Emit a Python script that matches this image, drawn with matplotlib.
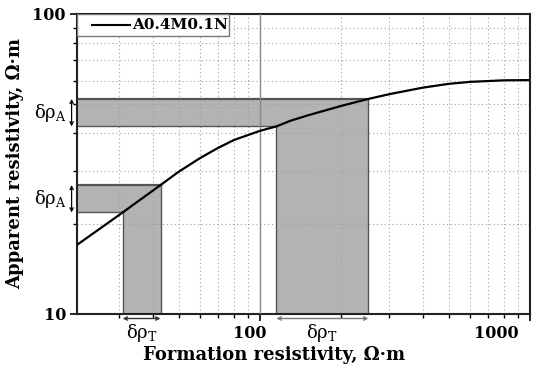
import matplotlib
matplotlib.use("Agg")
import matplotlib.pyplot as plt
from matplotlib.patches import Rectangle
from matplotlib.transforms import offset_copy
from matplotlib.ticker import LogLocator, NullFormatter, FixedLocator, FixedFormatter

# curve (formation vs apparent resistivity)
rho_t = [21, 25, 31, 35, 42.8, 50, 60, 70, 80, 100, 115, 130, 150, 200, 252, 300, 400, 500, 600, 800, 1000]
rho_a = [17.0, 19.0, 21.8, 23.6, 26.9, 29.8, 33.1, 35.8, 38.0, 40.8, 42.2, 44.1, 45.9, 49.4, 52.1, 54.0, 56.8, 58.5, 59.4, 60.1, 60.2]

# shaded bands: formation interval and matching apparent interval
band_t = [(31, 42.8), (115, 252)]
band_a = [(21.8, 26.9), (42.2, 52.1)]

legend_label = "A0.4M0.1N"
x_ticks = [100, 1000]
y_ticks = [10, 100]

plt.rcParams["font.family"] = ["DejaVu Serif"]
fig = plt.figure(figsize=(5.49, 3.73), dpi=100)
ax = fig.add_axes([0.1403, 0.1582, 0.8251, 0.8043])
ax.set_xscale("log")
ax.set_yscale("log")
ax.set_xlim(21, 1000)
ax.set_ylim(10, 100)

fill = "#b3b3b3"
edge = "#555555"
for (t0, t1), (a0, a1) in zip(band_t, band_a):
    ax.add_patch(Rectangle((t0, 10), t1 - t0, a1 - 10, facecolor=fill, edgecolor="none", zorder=1))
    ax.add_patch(Rectangle((21, a0), t1 - 21, a1 - a0, facecolor=fill, edgecolor="none", zorder=1))
    ax.plot([21, t1], [a1, a1], color=edge, lw=1.6, zorder=2)
    ax.plot([21, t0], [a0, a0], color=edge, lw=1.0, zorder=2)
    ax.plot([t0, t0], [10, a0], color=edge, lw=1.0, zorder=2)
    ax.plot([t1, t1], [10, a1], color=edge, lw=1.0, zorder=2)

ax.plot(rho_t, rho_a, color="black", lw=1.6, zorder=4)

ax.grid(which="minor", color="#a0a0a0", linestyle=(0, (1, 2.5)), lw=0.8, zorder=3)
ax.axvline(100, color="#888888", lw=1.0, zorder=3)

ax.xaxis.set_major_locator(FixedLocator(x_ticks))
ax.xaxis.set_major_formatter(FixedFormatter([str(v) for v in x_ticks]))
ax.xaxis.set_minor_locator(LogLocator(base=10, subs=range(2, 10)))
ax.xaxis.set_minor_formatter(NullFormatter())
ax.yaxis.set_major_locator(FixedLocator(y_ticks))
ax.yaxis.set_major_formatter(FixedFormatter([str(v) for v in y_ticks]))
ax.yaxis.set_minor_locator(LogLocator(base=10, subs=range(2, 10)))
ax.yaxis.set_minor_formatter(NullFormatter())
ax.tick_params(which="major", length=5, width=1.2, labelsize=11.5, pad=3)
ax.tick_params(which="minor", length=3, width=1.0)
for lab in ax.get_xticklabels() + ax.get_yticklabels():
    lab.set_fontweight("bold")
# x labels sit left of their ticks in the reference
for lab, dx in zip(ax.get_xticklabels(), [-10, -34]):
    lab.set_transform(offset_copy(lab.get_transform(), fig=fig, x=dx, y=0, units="dots"))
for s in ax.spines.values():
    s.set_linewidth(1.5)
    s.set_color("#222222")

ax.set_xlabel("Formation resistivity, \u03a9\u00b7m", fontsize=13, fontweight="bold", labelpad=3)
ax.xaxis.label.set_x(0.435)
ax.set_ylabel("Apparent resistivity, \u03a9\u00b7m", fontsize=13, fontweight="bold", labelpad=6)

# delta annotations outside the axes
bx = ax.get_xaxis_transform()
by = ax.get_yaxis_transform()
for (t0, t1), col in zip(band_t, ["#333333", "#777777"]):
    ax.annotate("", xy=(t0, -0.015), xytext=(t1, -0.015), xycoords=bx, textcoords=bx,
                arrowprops=dict(arrowstyle="<->", color=col, lw=1.0, mutation_scale=6,
                                shrinkA=0, shrinkB=0), annotation_clip=False)
    ax.text((t0 * t1) ** 0.5, -0.028, "\u03b4\u03c1$_\\mathregular{T}$", transform=bx,
            ha="center", va="top", fontsize=13, clip_on=False)
for (a0, a1) in band_a:
    ax.annotate("", xy=(-0.012, a0), xytext=(-0.012, a1), xycoords=by, textcoords=by,
                arrowprops=dict(arrowstyle="<->", color="black", lw=0.9, mutation_scale=6,
                                shrinkA=0, shrinkB=0), annotation_clip=False)
    ax.text(-0.022, (a0 * a1) ** 0.5, "\u03b4\u03c1$_\\mathregular{A}$", transform=by,
            ha="right", va="center", fontsize=13, clip_on=False)

# legend box in the upper-left corner
ax.add_patch(Rectangle((0, 0.9267), 0.3355, 0.0733, transform=ax.transAxes,
                       facecolor="white", edgecolor="#777777", lw=1.0, zorder=5))
ax.plot([0.033, 0.117], [0.963, 0.963], transform=ax.transAxes, color="black", lw=1.5, zorder=6)
ax.text(0.122, 0.963, legend_label, transform=ax.transAxes, ha="left", va="center",
        fontsize=11, fontweight="bold", zorder=6)

fig.savefig("out.png", dpi=100)
